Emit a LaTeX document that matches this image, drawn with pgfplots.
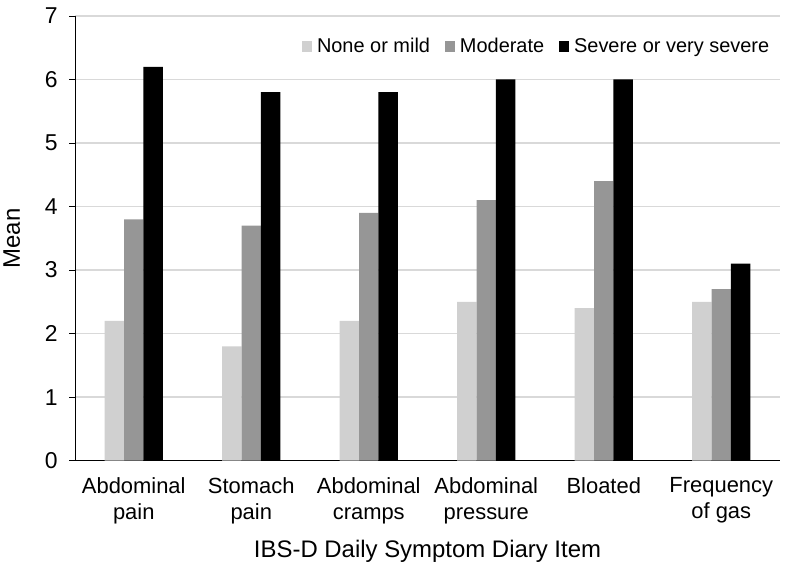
\documentclass[border=0pt]{standalone}
\usepackage{pgfplots}
\pgfplotsset{compat=1.18}
\usepackage{fontspec}
\setmainfont{Liberation Sans}
\definecolor{cLight}{HTML}{D0D0D0}
\definecolor{cMid}{HTML}{969696}
\definecolor{cGrid}{HTML}{D9D9D9}
\begin{document}
\begin{tikzpicture}
\begin{axis}[
  scale only axis,
  width=707bp, height=446bp,
  ybar=0pt, bar width=19.5bp,
  xmin=-0.5, xmax=5.5,
  ymin=0, ymax=7,
  xtick={0,1,2,3,4,5},
  xticklabels={{Abdominal\\pain},{Stomach\\pain},{Abdominal\\cramps},{Abdominal\\pressure},{Bloated},{Frequency\\of gas}},
  xticklabel style={align=center, font=\fontsize{22bp}{26bp}\selectfont, yshift=-7bp},
  x tick style={draw=none},
  ytick={0,1,...,7},
  yticklabel style={font=\fontsize{23bp}{26bp}\selectfont, xshift=-8bp},
  /pgf/number format/assume math mode=true,
  y tick style={black, line width=0.8bp},
  tick align=outside,
  major tick length=6bp,
  axis x line*=bottom, axis y line*=left,
  axis line style={black, line width=1bp},
  ymajorgrids, grid style={cGrid, line width=1.5bp},
  xlabel={IBS-D Daily Symptom Diary Item},
  ylabel={Mean},
  xlabel style={yshift=-10bp},
  ylabel style={yshift=18bp},
  label style={font=\fontsize{24bp}{28bp}\selectfont},
  legend style={draw=none, fill=none, at={(0.992,0.932)}, anchor=east,
    font=\fontsize{20bp}{24bp}\selectfont, legend columns=-1,
    /tikz/every even column/.append style={column sep=13bp}},
  legend image code/.code={\fill[#1] (0bp,-5.5bp) rectangle (10bp,5.5bp); \path (13bp,0bp);},
]
\addplot[fill=cLight, draw=none] coordinates {(0,2.2) (1,1.8) (2,2.2) (3,2.5) (4,2.4) (5,2.5)};
\addplot[fill=cMid, draw=none] coordinates {(0,3.8) (1,3.7) (2,3.9) (3,4.1) (4,4.4) (5,2.7)};
\addplot[fill=black, draw=none] coordinates {(0,6.2) (1,5.8) (2,5.8) (3,6.0) (4,6.0) (5,3.1)};
\legend{None or mild, Moderate, Severe or very severe}
\end{axis}
\path (current axis.north east) ++(6bp,16bp);
\path (current axis.south east) ++(6bp,-108bp);
\end{tikzpicture}
\end{document}
